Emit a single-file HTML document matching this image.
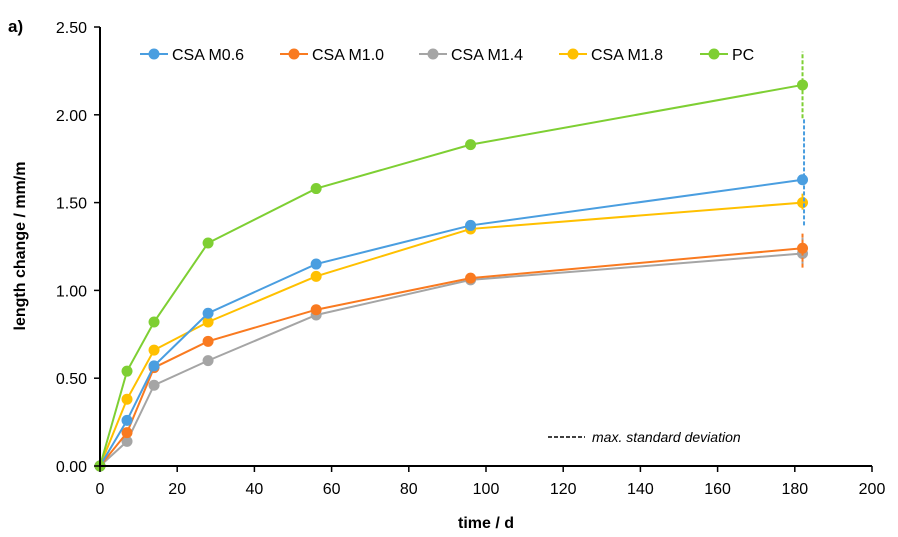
<!DOCTYPE html>
<html><head><meta charset="utf-8"><style>
body{margin:0;background:#fff;}
svg{display:block;font-family:"Liberation Sans",Arial,sans-serif;}
</style></head><body>
<svg id="chart" width="898" height="537">
<text x="8" y="32" font-size="17" font-weight="bold">a)</text>
<g id="grid"></g>
<g id="series"></g>
<g id="axes"></g>
<text x="486" y="528" font-size="16" font-weight="bold" text-anchor="middle">time / d</text>
<text transform="translate(25,246) rotate(-90)" font-size="16" font-weight="bold" text-anchor="middle">length change / mm/m</text>
<g id="legend"></g>
<g>
<line x1="548" y1="437" x2="585" y2="437" stroke="#000" stroke-width="1.5" stroke-dasharray="4,2"/>
<text x="592" y="442" font-size="14" font-style="italic">max. standard deviation</text>
</g>
</svg>
<script>
const days = [0, 7, 14, 28, 56, 96, 182];
const names = ["CSA M0.6", "CSA M1.0", "CSA M1.4", "CSA M1.8", "PC"];
const colors = ["#4a9ee0", "#f97a20", "#a5a5a5", "#ffc000", "#7ecf33"];
const m06 = [0, 0.26, 0.57, 0.87, 1.15, 1.37, 1.63];
const m10 = [0, 0.19, 0.56, 0.71, 0.89, 1.07, 1.24];
const m14 = [0, 0.14, 0.46, 0.60, 0.86, 1.06, 1.21];
const m18 = [0, 0.38, 0.66, 0.82, 1.08, 1.35, 1.50];
const pc = [0, 0.54, 0.82, 1.27, 1.58, 1.83, 2.17];
const errLow = [1.37, 1.13, 1.15, 1.46, 1.98];
const errHigh = [1.98, 1.33, 1.30, 1.56, 2.36];
const xTicks = [0, 20, 40, 60, 80, 100, 120, 140, 160, 180, 200];
const yTicks = ["0.00", "0.50", "1.00", "1.50", "2.00", "2.50"];
const NS = "http://www.w3.org/2000/svg";
const X = v => 100 + v * 772 / 200;
const Y = v => 466 - v * 439 / 2.5;
function mk(tag, attrs, parent) { const e = document.createElementNS(NS, tag); for (const k in attrs) e.setAttribute(k, attrs[k]); parent.appendChild(e); return e; }
const axes = document.getElementById("axes");
let a = mk("line", {x1: 100, y1: Y(2.5), x2: 100, y2: 466, stroke: "#000", "stroke-width": 2}, axes);


a = mk("line", {x1: 99, y1: 466, x2: X(200), y2: 466, stroke: "#000", "stroke-width": 2}, axes);


xTicks.forEach(t => {
  mk("line", {x1: X(t), y1: 466, x2: X(t), y2: 472, stroke: "#000", "stroke-width": 1.5}, axes);
  const tx = mk("text", {x: X(t), y: 494, "font-size": 16, "text-anchor": "middle"}, axes);
  tx.textContent = t;
  
  
});
yTicks.forEach(t => {
  const v = parseFloat(t);
  mk("line", {x1: 94, y1: Y(v), x2: 100, y2: Y(v), stroke: "#000", "stroke-width": 1.5}, axes);
  const tx = mk("text", {x: 87, y: Y(v) + 6, "font-size": 16, "text-anchor": "end"}, axes);
  tx.textContent = t;
  
  
});
const all = [m06, m10, m14, m18, pc];
const sg = document.getElementById("series");
const order = [2, 1, 3, 0, 4];
order.forEach(i => {
  const g = mk("g", {}, sg);
  
  
  const eb = mk("line", {x1: X(182) + (i === 0 ? 1.5 : 0), y1: Y(errLow[i]), x2: X(182) + (i === 0 ? 1.5 : 0), y2: Y(errHigh[i]), stroke: colors[i], "stroke-width": 2, "stroke-dasharray": "4,2"}, g);
  
  
  const pl = mk("polyline", {points: days.map((d, j) => X(d) + "," + Y(all[i][j])).join(" "), fill: "none", stroke: colors[i], "stroke-width": 2}, g);
  
  
  days.forEach((d, j) => {
    const c = mk("circle", {cx: X(d), cy: Y(all[i][j]), r: 5.5, fill: colors[i]}, g);
    
    
  });
});
const lg = document.getElementById("legend");
const lx = [140, 280, 419, 559, 700];
names.forEach((n, i) => {
  const g = mk("g", {}, lg);
  
  
  mk("line", {x1: lx[i], y1: 54, x2: lx[i] + 28, y2: 54, stroke: colors[i], "stroke-width": 2}, g);
  mk("circle", {cx: lx[i] + 14, cy: 54, r: 5.5, fill: colors[i]}, g);
  const t = mk("text", {x: lx[i] + 32, y: 60, "font-size": 16}, g);
  t.textContent = n;
});
</script>
</body></html>
